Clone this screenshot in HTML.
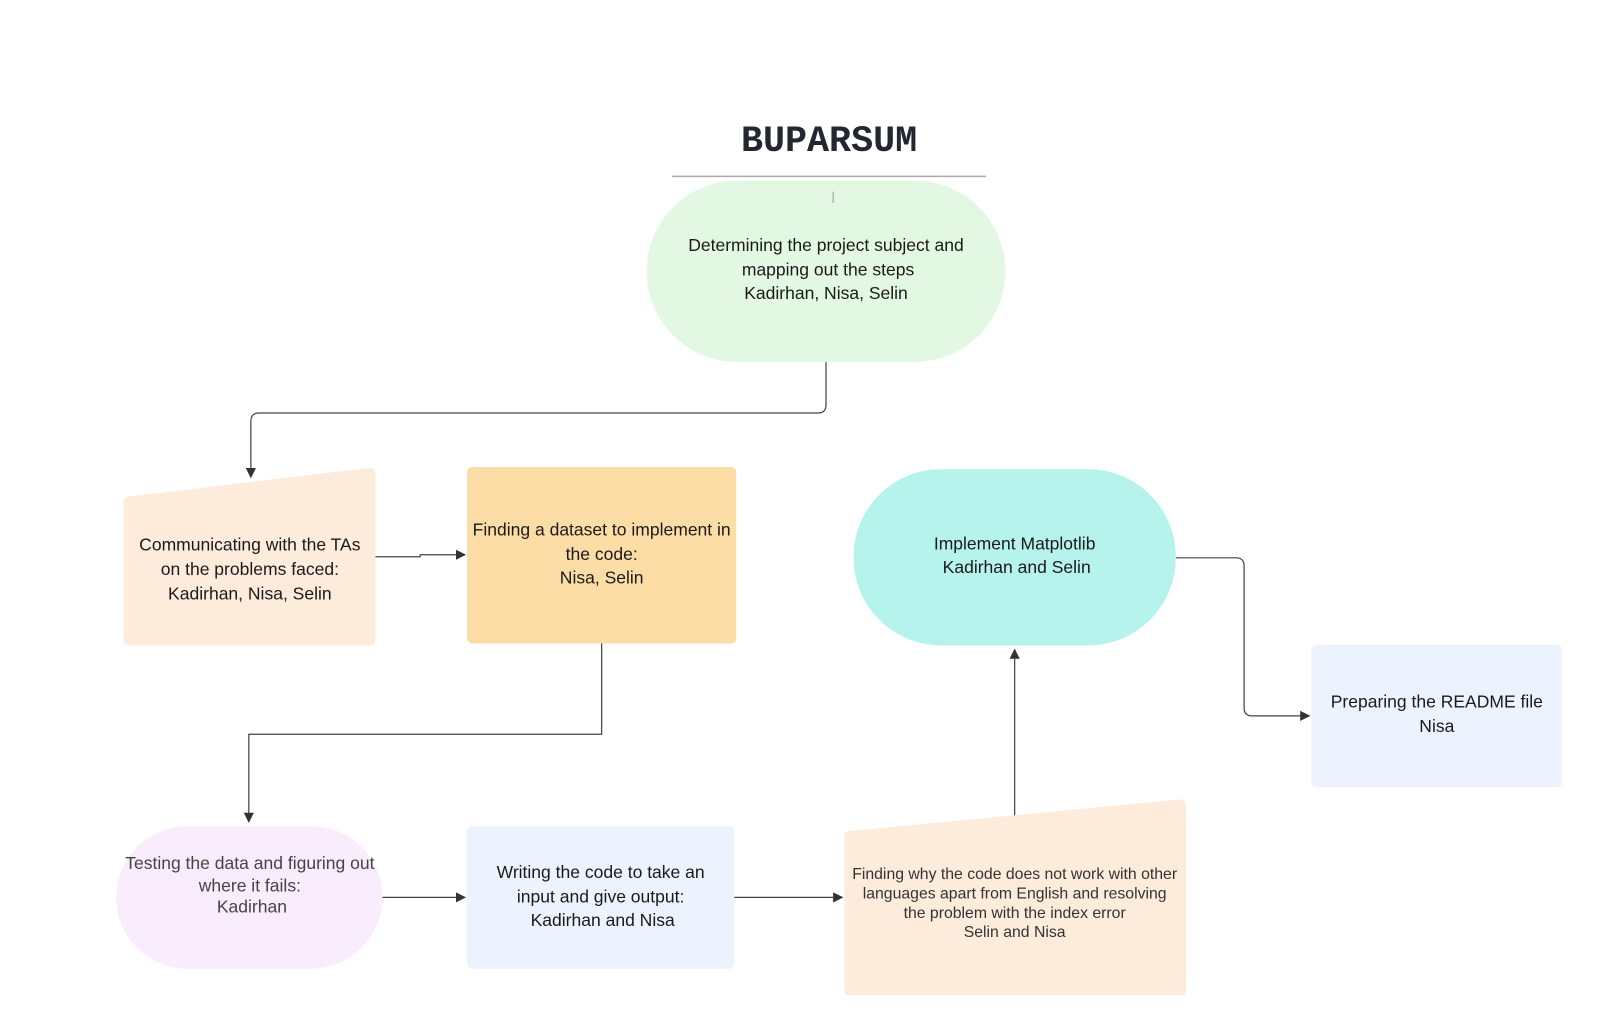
<!DOCTYPE html>
<html><head><meta charset="utf-8"><style>
html,body{margin:0;padding:0;background:#fff;}
svg{display:block}
text{font-family:"Liberation Sans",sans-serif;font-size:17.2px;fill:#1a1a1a;text-anchor:middle}
</style></head><body>
<svg width="1600" height="1033" viewBox="0 0 1569 1013" xmlns="http://www.w3.org/2000/svg">
<defs><marker id="a" markerWidth="10" markerHeight="10" refX="9" refY="5" orient="auto" markerUnits="userSpaceOnUse"><path d="M0,0 L10,5 L0,10 z" fill="#333"/></marker></defs>
<text x="813" y="148" style="font-family:'Liberation Mono',monospace;font-weight:bold;font-size:36px;fill:#232830">BUPARSUM</text>
<line x1="659" y1="173" x2="967" y2="173" stroke="#aaa" stroke-width="1.5"/>
<rect x="634" y="177" width="352" height="178" rx="89" fill="#e3f8e3"/>
<line x1="817" y1="188" x2="817" y2="199" stroke="#999"/>
<text x="810" y="246">Determining the project subject and</text>
<text x="812" y="270">mapping out the steps</text>
<text x="810" y="293">Kadirhan, Nisa, Selin</text>
<g fill="none" stroke="#444" stroke-width="1.2">
<path d="M810,355 V397 Q810,405 802,405 H254 Q246,405 246,413 V468" marker-end="url(#a)"/>
<path d="M368,546 H412 V544 H456" marker-end="url(#a)"/>
<path d="M590,631 V720 H244 V806" marker-end="url(#a)"/>
<path d="M375,880 H456" marker-end="url(#a)"/>
<path d="M720,880 H826" marker-end="url(#a)"/>
<path d="M995,800 V637" marker-end="url(#a)"/>
<path d="M1153,547 H1212 Q1220,547 1220,555 V694 Q1220,702 1228,702 H1284" marker-end="url(#a)"/>
</g>
<path d="M126,487 L361,459 Q368,458 368,465 V627 Q368,633 362,633 H127 Q121,633 121,627 V493 Q121,488 126,487 z" fill="#fdebdc"/>
<text x="245" y="540">Communicating with the TAs</text>
<text x="245" y="564">on the problems faced:</text>
<text x="245" y="588">Kadirhan, Nisa, Selin</text>
<rect x="458" y="458" width="264" height="173" rx="5" fill="#fddda6"/>
<text x="590" y="525">Finding a dataset to implement in</text>
<text x="590" y="549">the code:</text>
<text x="590" y="572">Nisa, Selin</text>
<rect x="837" y="460" width="316" height="173" rx="86" fill="#b6f3ec"/>
<text x="995" y="539">Implement Matplotlib</text>
<text x="997" y="562">Kadirhan and Selin</text>
<rect x="1286" y="632" width="246" height="140" rx="5" fill="#ecf3fe"/>
<text x="1409" y="694">Preparing the README file</text>
<text x="1409" y="718">Nisa</text>
<rect x="114" y="810" width="261" height="140" rx="70" fill="#f9ecfc"/>
<text x="245" y="852" style="fill:#444">Testing the data and figuring out</text>
<text x="245" y="874" style="fill:#444">where it fails:</text>
<text x="247" y="895" style="fill:#444">Kadirhan</text>
<rect x="458" y="810" width="262" height="140" rx="5" fill="#ecf3fe"/>
<text x="589" y="861">Writing the code to take an</text>
<text x="589" y="885">input and give output:</text>
<text x="591" y="908">Kadirhan and Nisa</text>
<path d="M833,815 L1157,784 Q1163,784 1163,790 V971 Q1163,976 1158,976 H833 Q828,976 828,971 V820 Q828,815 833,815 z" fill="#fdebdc"/>
<text x="995" y="862" style="font-size:15.5px;fill:#333">Finding why the code does not work with other</text>
<text x="995" y="881" style="font-size:15.5px;fill:#333">languages apart from English and resolving</text>
<text x="995" y="900" style="font-size:15.5px;fill:#333">the problem with the index error</text>
<text x="995" y="919" style="font-size:15.5px;fill:#333">Selin and Nisa</text>
</svg>
</body></html>
